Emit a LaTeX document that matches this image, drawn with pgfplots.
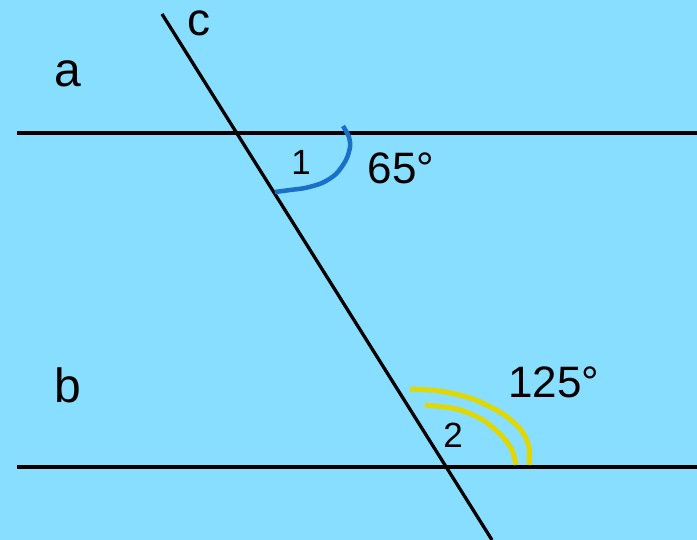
\documentclass[border=0pt]{standalone}
\usepackage{pgfplots}
\pgfplotsset{compat=1.18}
\usepackage{fontspec}
\setmainfont{Liberation Sans}
\definecolor{bg}{HTML}{87DEFF}
\definecolor{arcblue}{HTML}{1A6FC8}
\definecolor{arcyellow}{HTML}{E0D800}
\begin{document}
\begin{tikzpicture}
\begin{axis}[
  width=697pt, height=540pt, scale only axis,
  xmin=0, xmax=697, ymin=0, ymax=540, y dir=reverse,
  axis lines=none, ticks=none, clip=true,
  axis background/.style={fill=bg},
]
% line a
\addplot[black, line width=3.3pt] coordinates {(17,133) (697,133)};
% line b
\addplot[black, line width=3.3pt] coordinates {(17,467) (697,467)};
% line c
\addplot[black, line width=3.3pt] coordinates {(162,14) (492,540)};
% blue arc (angle 1)
\addplot[arcblue, line width=4.5pt, smooth] coordinates {
  (343,126) (349,137) (350,147) (346,160) (336,174) (322,183) (305,188) (290,190) (275,192)};
% yellow arcs (angle 2)
\addplot[arcyellow, line width=5pt, smooth] coordinates {
  (410,389) (440,391) (473,399) (503,414) (521,430) (529,447) (529,465)};
\addplot[arcyellow, line width=5pt, smooth] coordinates {
  (425,405) (457,409) (483,420) (502,436) (512,450) (516,465)};
% labels
\node[inner sep=0pt, font=\fontsize{48}{50}\selectfont] at (axis cs:68,74) {a};
\node[inner sep=0pt, font=\fontsize{48}{50}\selectfont] at (axis cs:68,385) {b};
\node[inner sep=0pt, font=\fontsize{46}{48}\selectfont] at (axis cs:199,23) {c};
\node[inner sep=0pt, font=\fontsize{35}{38}\selectfont] at (axis cs:301,162) {1};
\node[inner sep=0pt, font=\fontsize{35}{38}\selectfont] at (axis cs:453,435) {2};
\node[inner sep=0pt, font=\fontsize{44}{48}\selectfont] at (axis cs:401,168) {65°};
\node[inner sep=0pt, font=\fontsize{44}{48}\selectfont] at (axis cs:554,382) {125°};
\end{axis}
\end{tikzpicture}
\end{document}
